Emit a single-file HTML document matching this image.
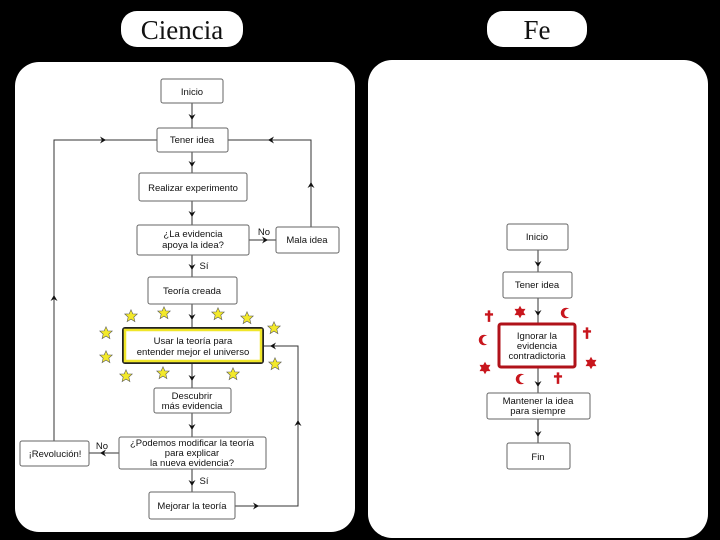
<!DOCTYPE html>
<html><head><meta charset="utf-8"><style>
html,body{margin:0;padding:0;background:#000;width:720px;height:540px;overflow:hidden}
svg text{font-family:"Liberation Sans",sans-serif;font-size:9.5px;fill:#111;text-anchor:middle}
</style></head><body>
<svg width="720" height="540" viewBox="0 0 720 540" xmlns="http://www.w3.org/2000/svg">
<defs>
<path id="ad" d="M-3.5,-6 L0,0 L3.5,-6 L0,-4z" fill="#111"/>
<path id="au" d="M-3.5,6 L0,0 L3.5,6 L0,4z" fill="#111"/>
<path id="ar" d="M-6,-3.5 L0,0 L-6,3.5 L-4,0z" fill="#111"/>
<path id="al" d="M6,-3.5 L0,0 L6,3.5 L4,0z" fill="#111"/>
<symbol id="st" viewBox="-10 -10 20 20"><polygon points="0,-9 2.6,-3 9,-2.8 4,1.6 5.6,8 0,4.4 -5.6,8 -4,1.6 -9,-2.8 -2.6,-3" fill="#f3e92a" stroke="#555" stroke-width="0.8"/></symbol>
<symbol id="rs" viewBox="-10 -10 20 20"><polygon points="0,-9 2.5,-4.5 7.8,-4.5 5,0 7.8,4.5 2.5,4.5 0,9 -2.5,4.5 -7.8,4.5 -5,0 -7.8,-4.5 -2.5,-4.5" fill="#c8161d"/></symbol>
<symbol id="cr" viewBox="-10 -10 20 20"><path d="M-1.8,-8 h3.6 v4 h4 v3.4 h-4 v9 h-3.6 v-9 h-4 v-3.4 h4z" fill="#c8161d"/></symbol>
<symbol id="mn" viewBox="-10 -10 20 20"><circle cx="0" cy="0" r="7.5" fill="#c8161d"/><circle cx="3.5" cy="0" r="6" fill="#fff"/></symbol>
</defs>
<rect x="121" y="11" width="122" height="36" rx="16" fill="#fff"/>
<text x="182" y="39" style="font-family:'Liberation Serif',serif;font-size:27px">Ciencia</text>
<rect x="487" y="11" width="100" height="36" rx="16" fill="#fff"/>
<text x="537" y="39" style="font-family:'Liberation Serif',serif;font-size:27px">Fe</text>
<rect x="15" y="62" width="340" height="470" rx="24" fill="#fff"/>
<rect x="368" y="60" width="340" height="478" rx="24" fill="#fff"/>
<g stroke="#333" stroke-width="1" fill="none">
<path d="M192,103V128M192,152V173M192,201V225M192,255V277M192,304V327M192,364V388M192,413V437M192,469V492"/>
<path d="M249,240H276"/>
<path d="M311,227V140H228"/>
<path d="M54,441V140H157"/>
<path d="M119,453H89"/>
<path d="M235,506H298V346H264"/>
<path d="M538,250V272M538,298V323M538,368V393M538,419V443"/>
</g>
<g>
<use href="#ad" x="192" y="120"/><use href="#ad" x="192" y="167"/><use href="#ad" x="192" y="217"/>
<use href="#ad" x="192" y="270"/><use href="#ad" x="192" y="320"/><use href="#ad" x="192" y="381"/>
<use href="#ad" x="192" y="430"/><use href="#ad" x="192" y="486"/>
<use href="#ar" x="268" y="240"/><use href="#au" x="311" y="182"/><use href="#al" x="268" y="140"/>
<use href="#ar" x="106" y="140"/><use href="#au" x="54" y="295"/><use href="#al" x="100" y="453"/>
<use href="#ar" x="259" y="506"/><use href="#au" x="298" y="420"/><use href="#al" x="270" y="346"/>
<use href="#ad" x="538" y="267"/><use href="#ad" x="538" y="316"/><use href="#ad" x="538" y="387"/><use href="#ad" x="538" y="437"/>
</g>
<g fill="#fff" stroke="#666" stroke-width="1">
<rect x="161" y="79" width="62" height="24" rx="2"/>
<rect x="157" y="128" width="71" height="24" rx="2"/>
<rect x="139" y="173" width="108" height="28" rx="2"/>
<rect x="137" y="225" width="112" height="30" rx="2"/>
<rect x="276" y="227" width="63" height="26" rx="2"/>
<rect x="148" y="277" width="89" height="27" rx="2"/>
<rect x="154" y="388" width="77" height="25" rx="2"/>
<rect x="119" y="437" width="147" height="32" rx="2"/>
<rect x="20" y="441" width="69" height="25" rx="2"/>
<rect x="149" y="492" width="86" height="27" rx="2"/>
<rect x="507" y="224" width="61" height="26" rx="2"/>
<rect x="503" y="272" width="69" height="26" rx="2"/>
<rect x="487" y="393" width="103" height="26" rx="2"/>
<rect x="507" y="443" width="63" height="26" rx="2"/>
</g>
<rect x="123" y="328" width="140" height="35" rx="2" fill="#fff" stroke="#222" stroke-width="2"/>
<rect x="125" y="330" width="136" height="31" fill="none" stroke="#f0e62a" stroke-width="2.5"/>
<rect x="499" y="324" width="76" height="43" rx="2" fill="#fff" stroke="#b0121a" stroke-width="3"/>
<text x="192" y="95">Inicio</text>
<text x="192" y="143">Tener idea</text>
<text x="193" y="191">Realizar experimento</text>
<text x="193" y="237">¿La evidencia</text>
<text x="193" y="248">apoya la idea?</text>
<text x="264" y="235">No</text>
<text x="307" y="243">Mala idea</text>
<text x="204" y="269">Sí</text>
<text x="192" y="294">Teoría creada</text>
<text x="193" y="344">Usar la teoría para</text>
<text x="193" y="355">entender mejor el universo</text>
<text x="192" y="399">Descubrir</text>
<text x="192" y="409">más evidencia</text>
<text x="192" y="446">¿Podemos modificar la teoría</text>
<text x="192" y="456">para explicar</text>
<text x="192" y="466">la nueva evidencia?</text>
<text x="102" y="449">No</text>
<text x="55" y="457">¡Revolución!</text>
<text x="204" y="484">Sí</text>
<text x="192" y="509">Mejorar la teoría</text>
<text x="537" y="240">Inicio</text>
<text x="537" y="288">Tener idea</text>
<text x="537" y="339">Ignorar la</text>
<text x="537" y="349">evidencia</text>
<text x="537" y="359">contradictoria</text>
<text x="538" y="404">Mantener la idea</text>
<text x="538" y="414">para siempre</text>
<text x="538" y="460">Fin</text>
<use href="#st" x="124" y="309" width="14" height="14"/>
<use href="#st" x="157" y="306" width="14" height="14"/>
<use href="#st" x="211" y="307" width="14" height="14"/>
<use href="#st" x="240" y="311" width="14" height="14"/>
<use href="#st" x="267" y="321" width="14" height="14"/>
<use href="#st" x="99" y="326" width="14" height="14"/>
<use href="#st" x="99" y="350" width="14" height="14"/>
<use href="#st" x="268" y="357" width="14" height="14"/>
<use href="#st" x="119" y="369" width="14" height="14"/>
<use href="#st" x="156" y="366" width="14" height="14"/>
<use href="#st" x="226" y="367" width="14" height="14"/>
<use href="#cr" x="482" y="309" width="14" height="14"/>
<use href="#cr" x="580" y="326" width="14" height="14"/>
<use href="#cr" x="551" y="371" width="14" height="14"/>
<use href="#rs" x="513" y="305" width="14" height="14"/>
<use href="#rs" x="478" y="361" width="14" height="14"/>
<use href="#rs" x="584" y="356" width="14" height="14"/>
<use href="#mn" x="559" y="306" width="14" height="14"/>
<use href="#mn" x="477" y="333" width="14" height="14"/>
<use href="#mn" x="514" y="372" width="14" height="14"/>
</svg>
</body></html>
